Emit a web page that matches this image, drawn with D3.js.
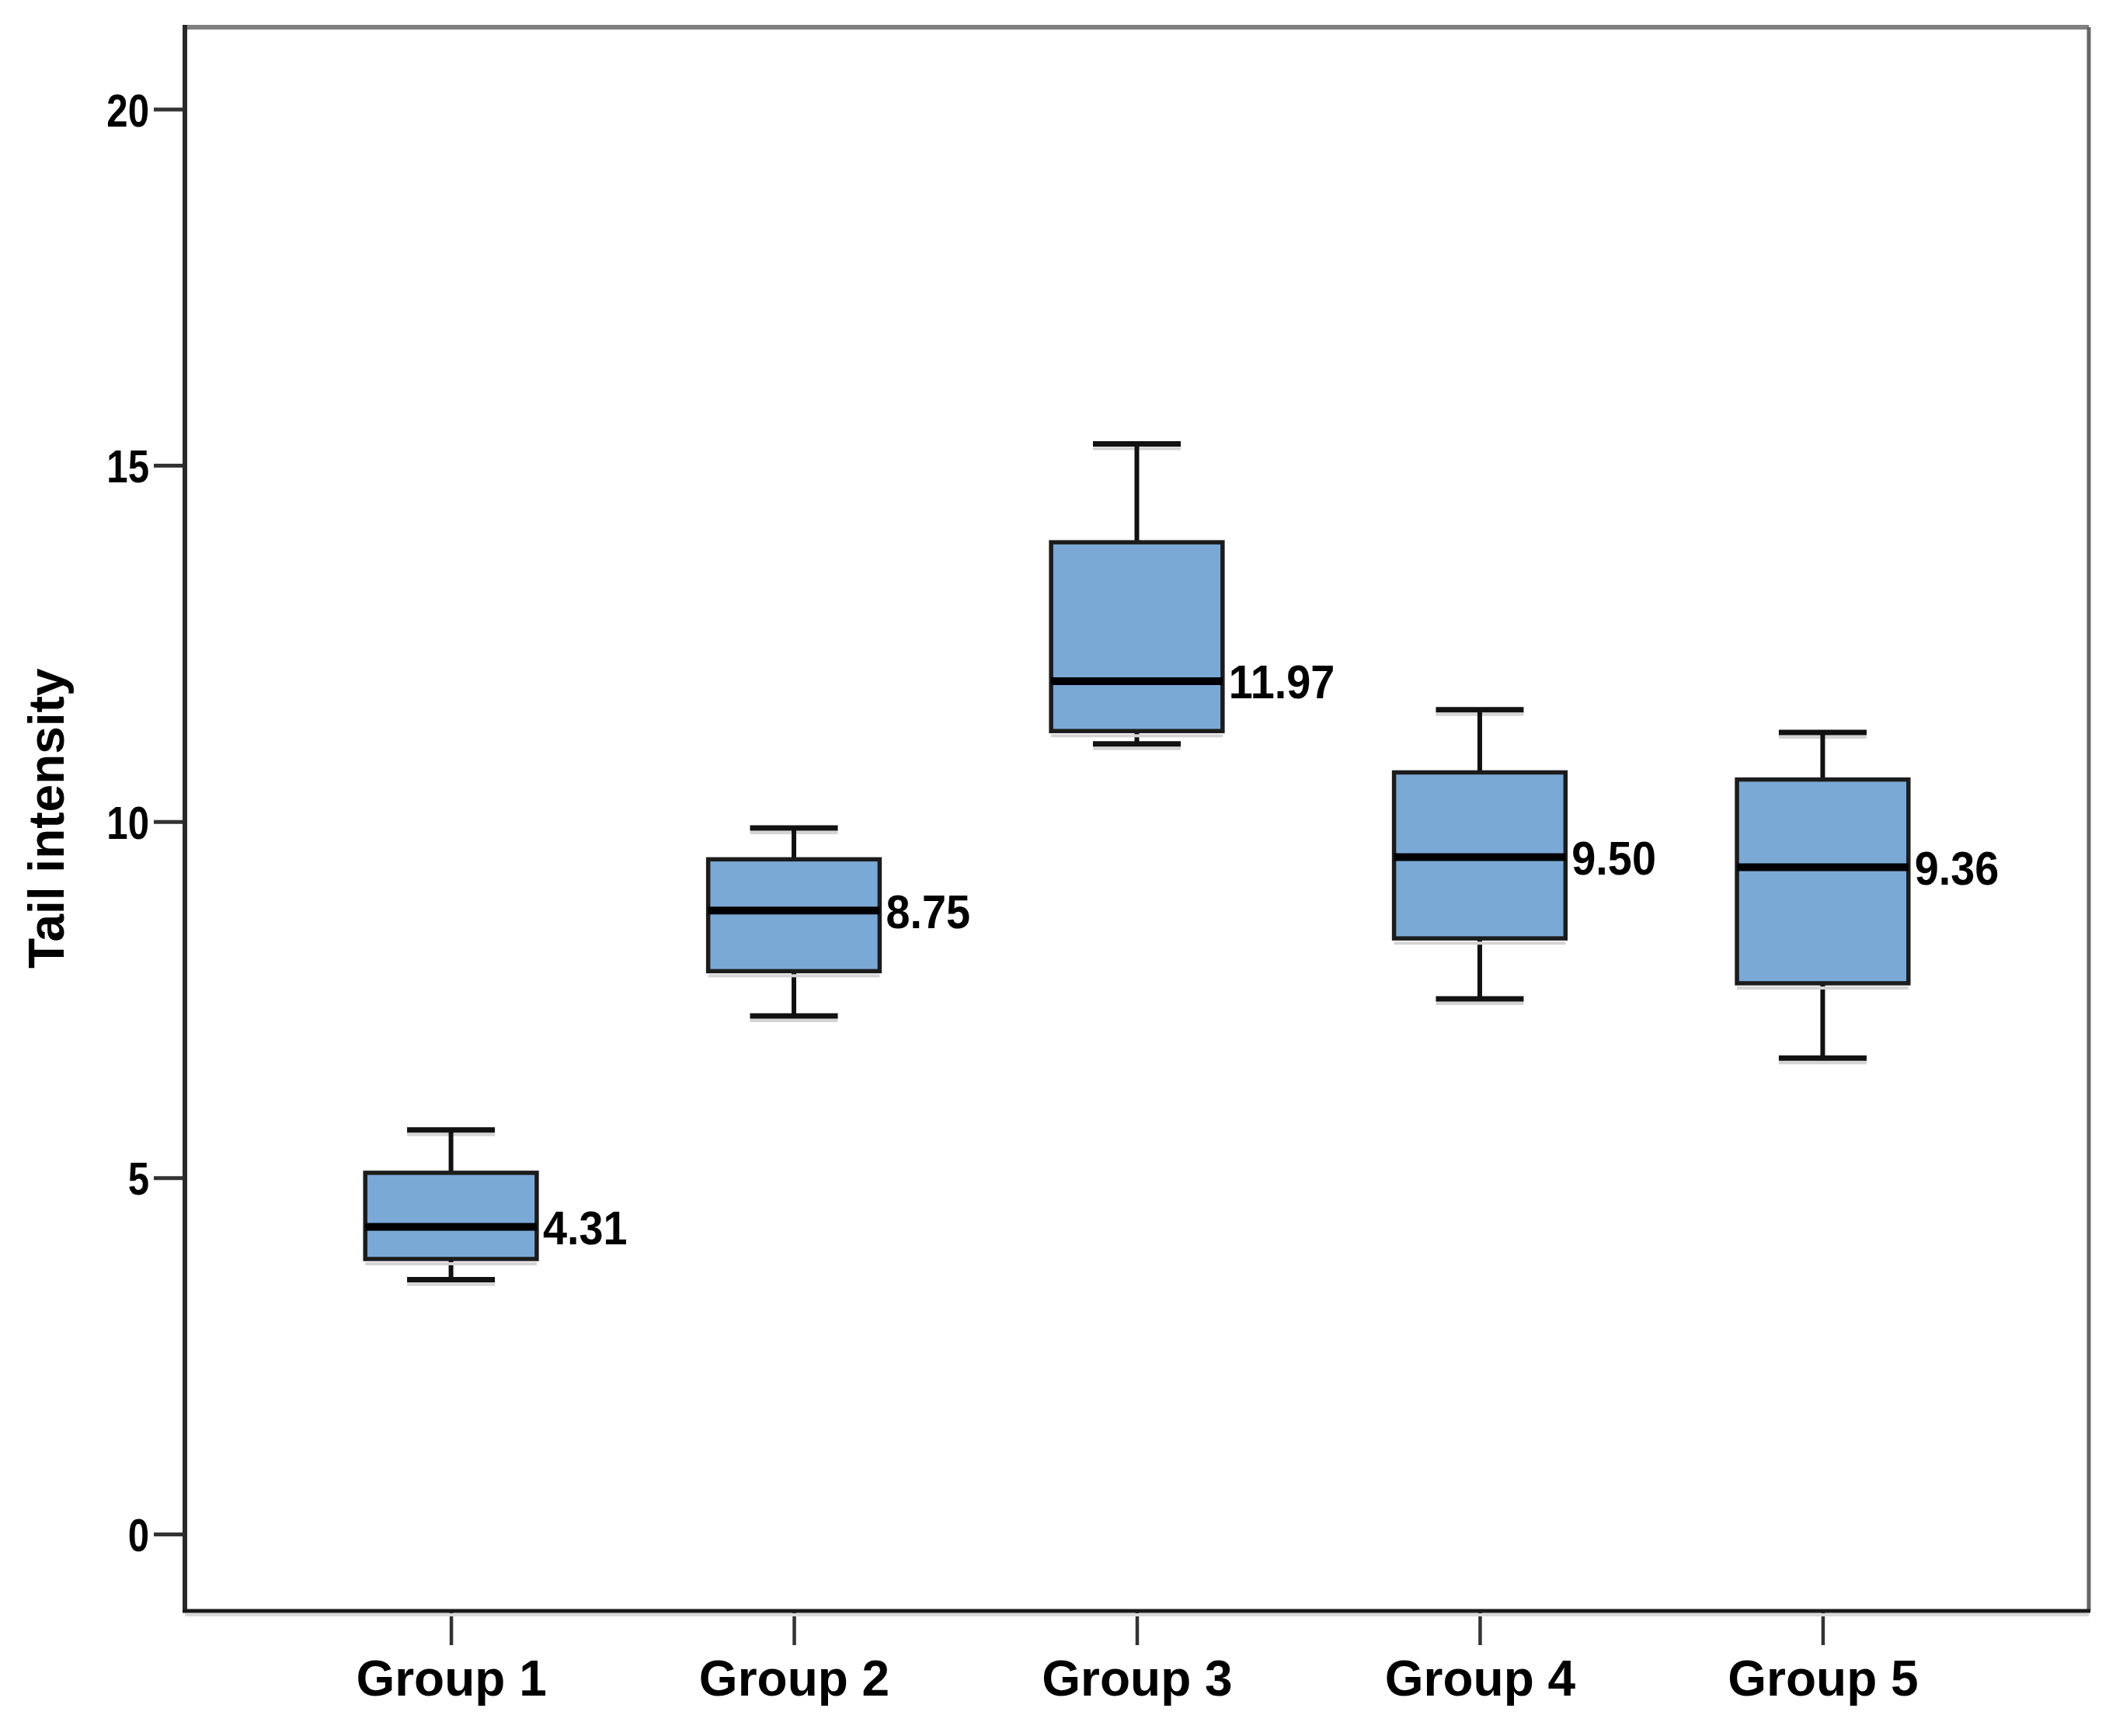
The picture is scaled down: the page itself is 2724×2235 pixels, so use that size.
<!DOCTYPE html>
<html>
<head>
<meta charset="utf-8">
<script src="https://cdn.jsdelivr.net/npm/d3@7"></script>
<style>
  html, body { margin: 0; padding: 0; background: #fff; }
  svg { display: block; }
  .narrow { font-family: "Liberation Sans", Arial, sans-serif; font-weight: bold; }
  .wide { font-family: "Liberation Sans", Arial, sans-serif; font-weight: bold; }
</style>
</head>
<body>
<svg id="chart" width="2724" height="2235"></svg>
<script>
// ---- data ----
const groups = ["Group 1", "Group 2", "Group 3", "Group 4", "Group 5"];
const whiskerLow  = [3.57, 7.27, 11.09, 7.51, 6.68];
const q1          = [3.86, 7.90, 11.27, 8.36, 7.73];
const medians     = [4.31, 8.75, 11.97, 9.50, 9.36];
const q3          = [5.07, 9.47, 13.92, 10.69, 10.59];
const whiskerHigh = [5.67, 9.91, 15.30, 11.57, 11.25];
const yTicks = [0, 5, 10, 15, 20];
const yTitle = "Tail intensity";

const rows = groups.map((g, i) => ({
  g, lo: whiskerLow[i], q1: q1[i], med: medians[i], q3: q3[i], hi: whiskerHigh[i]
}));

// ---- layout ----
const pL = 238, pT = 35, pR = 2689, pB = 2074;
const narrowK = 0.82, labelK = 0.9;
const svg = d3.select("#chart");

const x = d3.scalePoint().domain(groups).range([pL, pR]).padding(0.776);
const y = d3.scaleLinear().domain([-1.08, 21.15]).range([pB, pT]);
const step = x.step();
const boxW = step * 0.5;
const capW = step * 0.256;

// y axis
const yAxis = d3.axisLeft(y).tickValues(yTicks).tickSize(40).tickPadding(6).tickFormat(d3.format("d"));
const gy = svg.append("g").attr("transform", `translate(${pL},0)`).call(yAxis);
gy.select(".domain").remove();
gy.selectAll(".tick line").attr("stroke", "#333").attr("stroke-width", 5);
gy.selectAll(".tick text").attr("class", "narrow").attr("font-size", 60).attr("fill", "#000")
  .attr("x", null).attr("dy", "0.36em")
  .attr("transform", `translate(-46,0) scale(${narrowK},1)`);

// x axis
const xAxis = d3.axisBottom(x).tickSize(44).tickPadding(20);
const gx = svg.append("g").attr("transform", `translate(0,${pB})`).call(xAxis);
gx.select(".domain").remove();
gx.selectAll(".tick line").attr("stroke", "#333").attr("stroke-width", 4.5);
gx.selectAll(".tick text").attr("class", "wide").attr("font-size", 64).attr("fill", "#000")
  .attr("dy", "0.71em");

// frame shadow (bottom)
svg.append("line").attr("x1", pL).attr("x2", pR).attr("y1", pB + 5).attr("y2", pB + 5)
  .attr("stroke", "#d8d8d8").attr("stroke-width", 4);
// frame
svg.append("line").attr("x1", pL).attr("x2", pR).attr("y1", pT).attr("y2", pT)
  .attr("stroke", "#808080").attr("stroke-width", 6);
svg.append("line").attr("x1", pR).attr("x2", pR).attr("y1", pT).attr("y2", pB)
  .attr("stroke", "#666").attr("stroke-width", 5);
svg.append("line").attr("x1", pL).attr("x2", pL).attr("y1", pT - 3).attr("y2", pB)
  .attr("stroke", "#2a2a2a").attr("stroke-width", 6);
svg.append("line").attr("x1", pL - 3).attr("x2", pR + 2).attr("y1", pB).attr("y2", pB)
  .attr("stroke", "#1a1a1a").attr("stroke-width", 5);

// y title
svg.append("text").attr("class", "wide").attr("font-size", 64).attr("fill", "#000")
  .attr("text-anchor", "middle")
  .attr("transform", `translate(82,${(y(yTicks[0]) + y(yTicks[yTicks.length-1])) / 2 - 4}) rotate(-90)`)
  .text(yTitle);

// boxes
const gb = svg.append("g");
const b = gb.selectAll("g.box").data(rows).join("g").attr("class", "box");

// whisker shadows
b.append("line").attr("x1", d => x(d.g) - capW / 2).attr("x2", d => x(d.g) + capW / 2)
  .attr("y1", d => y(d.lo) + 6).attr("y2", d => y(d.lo) + 6).attr("stroke", "#d4d4d4").attr("stroke-width", 4);
b.append("line").attr("x1", d => x(d.g) - capW / 2).attr("x2", d => x(d.g) + capW / 2)
  .attr("y1", d => y(d.hi) + 6).attr("y2", d => y(d.hi) + 6).attr("stroke", "#d4d4d4").attr("stroke-width", 4);

// whisker stems
b.append("line").attr("x1", d => x(d.g)).attr("x2", d => x(d.g))
  .attr("y1", d => y(d.hi)).attr("y2", d => y(d.q3)).attr("stroke", "#111").attr("stroke-width", 6);
b.append("line").attr("x1", d => x(d.g)).attr("x2", d => x(d.g))
  .attr("y1", d => y(d.q1)).attr("y2", d => y(d.lo)).attr("stroke", "#111").attr("stroke-width", 6);
// caps
b.append("line").attr("x1", d => x(d.g) - capW / 2).attr("x2", d => x(d.g) + capW / 2)
  .attr("y1", d => y(d.hi)).attr("y2", d => y(d.hi)).attr("stroke", "#111").attr("stroke-width", 7);
b.append("line").attr("x1", d => x(d.g) - capW / 2).attr("x2", d => x(d.g) + capW / 2)
  .attr("y1", d => y(d.lo)).attr("y2", d => y(d.lo)).attr("stroke", "#111").attr("stroke-width", 7);

// box shadow
b.append("line").attr("x1", d => x(d.g) - boxW / 2).attr("x2", d => x(d.g) + boxW / 2)
  .attr("y1", d => y(d.q1) + 6).attr("y2", d => y(d.q1) + 6).attr("stroke", "#d4d4d4").attr("stroke-width", 4);
// box
b.append("rect")
  .attr("x", d => x(d.g) - boxW / 2).attr("width", boxW)
  .attr("y", d => y(d.q3)).attr("height", d => y(d.q1) - y(d.q3))
  .attr("fill", "#7ba9d6").attr("stroke", "#1c1c1c").attr("stroke-width", 5.5);
// median
b.append("line").attr("x1", d => x(d.g) - boxW / 2).attr("x2", d => x(d.g) + boxW / 2)
  .attr("y1", d => y(d.med)).attr("y2", d => y(d.med)).attr("stroke", "#000").attr("stroke-width", 10);
// median label (condensed bold)
b.append("text").attr("class", "narrow").attr("font-size", 62).attr("fill", "#000")
  .attr("transform", d => `translate(${x(d.g) + boxW / 2 + 8},${y(d.med)}) scale(${labelK},1)`)
  .attr("dy", "0.36em")
  .text(d => d3.format(".2f")(d.med));
</script>
</body>
</html>
